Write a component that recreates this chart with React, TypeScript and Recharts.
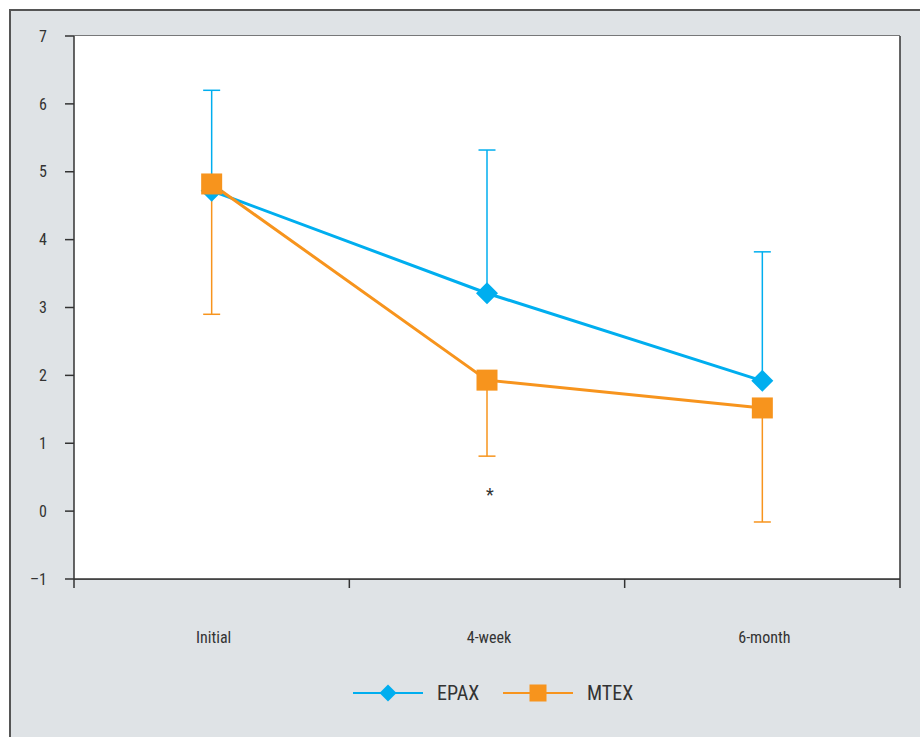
import React from "react";
import { CartesianGrid, ErrorBar, Legend, Line, LineChart, ReferenceDot, ReferenceLine, XAxis, YAxis } from "recharts";

const categories = ["Initial", "4-week", "6-month"];
const epax = [4.72, 3.21, 1.92];
const epaxUp = [1.48, 2.11, 1.9];
const mtex = [4.82, 1.93, 1.52];
const mtexDown = [1.92, 1.12, 1.68];
const yTicks = [-1, 0, 1, 2, 3, 4, 5, 6, 7];
const xTicks = [0, 0.5, 1, 1.5, 2, 2.5, 3];

const BLUE = "#00aeef";
const ORANGE = "#f7941d";
const INK = "#333";
const FONT = '"Liberation Sans Narrow", "Roboto Condensed", "DejaVu Sans Condensed", "Liberation Sans", sans-serif';

const data = categories.map((name, i) => ({
  pos: i + 0.5, name,
  epax: epax[i], epaxErr: [0, epaxUp[i]],
  mtex: mtex[i], mtexErr: [mtexDown[i], 0],
}));

type DotProps = { cx?: number; cy?: number; index?: number };

function Diamond({ cx, cy, r = 11, fill }: { cx?: number; cy?: number; r?: number; fill: string }) {
  if (cx == null || cy == null) return null;
  return <polygon points={`${cx},${cy - r} ${cx + r},${cy} ${cx},${cy + r} ${cx - r},${cy}`} fill={fill}/>;
}

function Square({ cx, cy, s = 21, fill }: { cx?: number; cy?: number; s?: number; fill: string }) {
  if (cx == null || cy == null) return null;
  return <rect x={cx - s / 2} y={cy - s / 2} width={s} height={s} fill={fill}/>;
}

function XTick({ x, y, payload }: { x?: number; y?: number; payload?: { value: number } }) {
  const v = payload?.value ?? 0;
  if (x == null || y == null) return null;
  if (Number.isInteger(v)) return <line x1={x} x2={x} y1={y} y2={y + 9} stroke={INK} strokeWidth={1.5}/>;
  return <text x={x + 2} y={y + 59} dy={5} textAnchor="middle" fill={INK} fontSize={16} fontFamily={FONT}>{categories[Math.floor(v)]}</text>;
}

function LegendContent() {
  return <svg width={920} height={30}>
    <line x1={353} x2={423} y1={15} y2={15} stroke={BLUE} strokeWidth={2}/>
    <Diamond cx={388} cy={15} r={8.5} fill={BLUE}/>
    <text x={437} y={15} dy={7} fill={INK} fontSize={20} fontFamily={FONT}>EPAX</text>
    <line x1={503} x2={573} y1={15} y2={15} stroke={ORANGE} strokeWidth={2}/>
    <Square cx={538} cy={15} s={17} fill={ORANGE}/>
    <text x={587} y={15} dy={7} fill={INK} fontSize={20} fontFamily={FONT}>MTEX</text>
  </svg>;
}

export default function App() {
  return <div style={{ position: "absolute", left: 0, top: 0, width: 920, height: 737, background: "#fff", overflow: "hidden" }}>
    <div style={{ position: "absolute", left: 9, top: 9, width: 940, height: 760, background: "#dfe3e6", border: "2px solid #555" }}/>
    <div style={{ position: "absolute", left: 0, top: 0 }}>
      <LineChart width={920} height={737} data={data} margin={{ top: 36, right: 20, left: 14, bottom: 88 }}>
        <rect x={74} y={36} width={826} height={543} fill="#fff"/>
        <CartesianGrid horizontal vertical={false} stroke="#555" strokeWidth={1.3} fill="#fff"/>
        <XAxis dataKey="pos" type="number" domain={[0, 3]} ticks={xTicks} interval={0} height={70}
          tickSize={0} tickMargin={0} tickLine={false} axisLine={{ stroke: INK, strokeWidth: 1.5 }} tick={<XTick/>}/>
        <YAxis type="number" domain={[-1, 7]} ticks={yTicks} interval={0} width={60} tickSize={9} tickMargin={18}
          axisLine={{ stroke: INK, strokeWidth: 1.5 }} tickLine={{ stroke: INK, strokeWidth: 1.5 }}
          tick={{ fill: INK, fontSize: 16, fontFamily: FONT }} tickFormatter={(v: number) => (v < 0 ? `\u2013${Math.abs(v)}` : `${v}`)}/>
        <ReferenceLine x={3} stroke={INK} strokeWidth={1.5}/>
        <Legend layout="horizontal" verticalAlign="middle" align="center" wrapperStyle={{ position: "absolute", top: 678, left: 0, width: 920 }} content={<LegendContent/>}/>
        {/* error bars under the markers; ErrorBar width is the half cap width */}
        <Line name="EPAX" dataKey="epax" stroke={BLUE} strokeWidth={3} dot={false} activeDot={false} isAnimationActive={false}>
          <ErrorBar dataKey="epaxErr" width={8.5} stroke={BLUE} strokeWidth={1.5} isAnimationActive={false}/>
        </Line>
        <Line name="EPAX markers" dataKey="epax" stroke="none" legendType="none" activeDot={false} isAnimationActive={false}
          dot={(p: DotProps) => <Diamond key={`e-${p.index}`} cx={p.cx} cy={p.cy} fill={BLUE}/>}/>
        <Line name="MTEX" dataKey="mtex" stroke={ORANGE} strokeWidth={3} dot={false} activeDot={false} isAnimationActive={false}>
          <ErrorBar dataKey="mtexErr" width={8.5} stroke={ORANGE} strokeWidth={1.5} isAnimationActive={false}/>
        </Line>
        <Line name="MTEX markers" dataKey="mtex" stroke="none" legendType="none" activeDot={false} isAnimationActive={false}
          dot={(p: DotProps) => <Square key={`m-${p.index}`} cx={p.cx} cy={p.cy} fill={ORANGE}/>}/>
        <ReferenceDot x={1.5} y={0.24} r={0} fill="none" stroke="none" label={{ value: "*", position: "center", fill: INK, fontSize: 18, fontFamily: FONT, dx: 3 }}/>
      </LineChart>
    </div>
  </div>;
}
